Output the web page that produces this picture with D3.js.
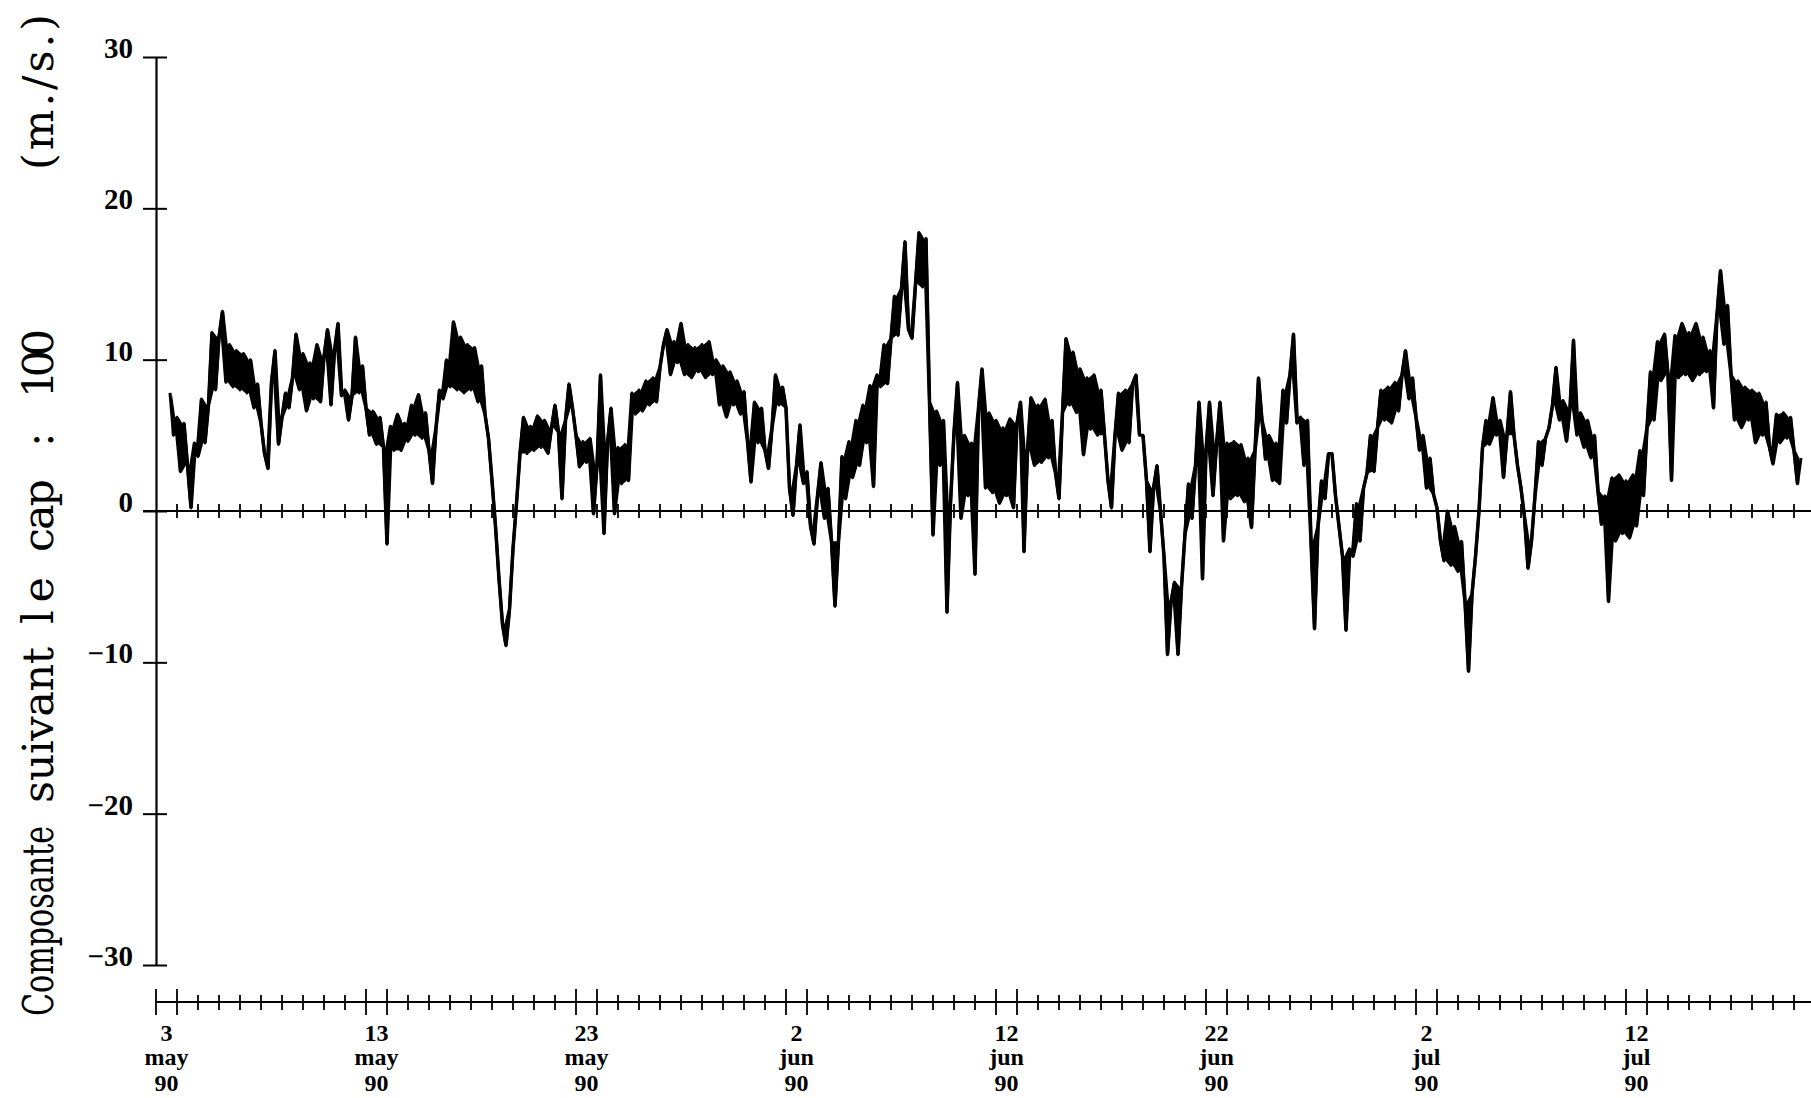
<!DOCTYPE html>
<html>
  <head>
    <style>
      body,
      html {
        margin: 0;
        background: #fff;
        overflow: hidden;
      }
    </style>
    <script src="https://d3js.org/d3.v7.min.js"></script>
    <title>Composante suivant le cap</title>
  </head>

  <body>
    <svg id="chart" width="1811" height="1098"></svg>

    <script>
      // series: one reading every 4 hours, starting 3 May 1990 16:00 (UTC)
      var startTime = Date.UTC(1990, 4, 3, 16);
      var stepHours = 4;
      var values = [
        7.8, 5.0,
        6.2, 2.6, 5.8, 3.0, 0.2, 4.5,
        3.6, 7.4, 4.5, 7.0, 11.8, 8.0,
        11.5, 13.2, 8.5, 11.0, 8.2, 10.6,
        8.0, 10.4, 7.8, 10.0, 6.8, 8.4,
        5.8, 3.8, 2.8, 8.5, 10.6, 4.4,
        6.2, 7.8, 6.8, 8.8, 11.7, 8.0,
        10.4, 6.6, 9.8, 7.4, 11.0, 7.2,
        10.2, 12.0, 7.0, 10.6, 12.4, 7.6,
        8.0, 6.0, 7.6, 11.5, 7.8, 9.6,
        6.8, 5.0, 6.6, 4.4, 6.2, 4.2, // 13 may
        -2.2, 5.6, 4.0, 6.4, 4.0, 5.8,
        4.6, 7.0, 5.0, 7.7, 4.8, 6.5,
        4.0, 1.8, 5.5, 8.0, 7.4, 10.0,
        8.2, 12.5, 8.0, 11.5, 7.8, 11.0,
        8.0, 10.8, 7.2, 9.6, 6.4, 4.8,
        2.0, -1.0, -4.5, -7.5, -8.9, -6.5,
        -2.5, 0.5, 3.8, 6.2, 3.8, 5.6,
        4.0, 6.3, 4.2, 6.0, 3.8, 5.5,
        7.0, 5.2, 0.8, 6.0, 8.4, 6.8,
        5.0, 2.9, 4.6, 3.2, 4.8, -0.2, // 23 may
        3.0, 9.0, -1.5, 4.5, 6.8, -0.2,
        4.2, 1.8, 4.4, 2.0, 7.8, 6.4,
        8.0, 6.6, 8.6, 7.0, 8.8, 7.2,
        9.5, 11.0, 12.0, 9.0, 11.2, 9.8,
        12.4, 9.0, 11.0, 8.8, 10.8, 9.2,
        11.0, 8.8, 11.2, 9.0, 10.0, 7.0,
        9.6, 6.2, 9.2, 7.0, 8.6, 6.4,
        7.9, 4.6, 1.9, 7.2, 4.5, 6.8,
        4.0, 2.8, 5.5, 9.0, 7.0, 8.2,
        6.8, 1.5, -0.3, 3.0, 5.7, 1.8, // 2 jun
        2.6, -1.0, -2.2, 1.0, 3.2, -0.5,
        1.5, -2.0, -6.3, -2.0, 3.6, 0.8,
        4.6, 2.2, 6.0, 3.0, 7.0, 4.5,
        8.3, 1.6, 9.0, 8.2, 11.0, 8.4,
        11.4, 14.2, 11.6, 14.7, 17.8, 12.0,
        11.4, 15.0, 18.4, 14.8, 18.0, 7.2,
        -1.6, 6.6, 3.0, 6.0, -6.7, 0.5,
        5.2, 8.5, -0.5, 5.0, 1.0, 4.5,
        -4.2, 6.8, 9.4, 1.5, 6.5, 1.2,
        6.0, 0.5, 5.5, 1.0, 6.1, 0.2, // 12 jun
        5.8, 7.2, -2.7, 4.0, 7.5, 3.0,
        7.0, 3.2, 7.4, 3.5, 6.0, 2.5,
        0.8, 6.5, 11.4, 7.0, 10.5, 6.5,
        9.4, 3.7, 8.8, 5.4, 9.0, 5.0,
        8.0, 5.0, 2.0, 0.2, 5.0, 7.8,
        4.0, 8.0, 4.5, 8.4, 9.0, 5.0,
        5.0, 2.0, -2.7, 1.5, 3.0, 0.0,
        -3.0, -9.5, -6.0, -4.7, -9.5, -5.0,
        -1.5, 1.8, -0.5, 3.0, 7.2, -4.5,
        4.0, 7.2, 1.0, 4.4, 7.2, -2.0, // 22 jun
        4.5, 0.8, 4.6, 1.0, 4.4, 0.6,
        3.5, -1.1, 4.0, 8.8, 6.0, 3.4,
        5.0, 2.0, 4.5, 1.8, 8.0, 5.8,
        9.0, 11.7, 5.8, 6.2, 3.0, 6.0,
        -2.0, -7.8, -1.0, 2.0, 0.8, 3.8,
        3.8, 1.0, -1.0, -3.0, -7.9, -2.5,
        -3.0, 0.5, -2.0, 1.5, 2.5, 5.0,
        2.6, 5.5, 8.0, 6.0, 8.2, 5.8,
        8.5, 6.6, 9.0, 10.6, 7.4, 8.8,
        6.2, 4.0, 5.0, 1.5, 3.5, 1.1, // 2 jul
        0.2, -2.0, -3.3, 0.0, -3.6, -1.0,
        -4.0, -2.0, -6.0, -10.6, -5.5, -3.0,
        0.0, 4.2, 6.0, 4.4, 7.5, 5.0,
        6.0, 2.2, 5.0, 7.9, 5.0, 3.0,
        1.5, -0.4, -3.8, -2.0, 1.0, 4.6,
        3.0, 4.8, 5.5, 7.0, 9.5, 6.0,
        7.3, 4.6, 6.8, 11.3, 5.0, 6.5,
        4.2, 6.0, 3.5, 5.0, 1.3, -0.9,
        1.0, -6.0, 2.2, -2.0, 2.4, -1.5,
        2.0, -1.8, 2.4, -1.0, 4.0, 1.0, // 12 jul
        5.5, 9.2, 6.0, 11.2, 8.6, 11.7,
        9.0, 2.0, 11.6, 8.8, 12.4, 9.0,
        11.8, 8.6, 12.4, 9.0, 11.5, 9.2,
        10.6, 6.8, 13.0, 15.9, 11.0, 13.6,
        9.0, 6.0, 8.6, 5.5, 8.2, 6.0,
        8.0, 4.5, 7.8, 5.0, 7.2, 4.2,
        3.1, 6.4, 4.5, 6.5, 4.8, 6.2,
        4.0, 1.8, 3.5,
      ];

      var yTicks = [30, 20, 10, 0, -10, -20, -30];
      var labelDates = [
        [1990, 4, 3], [1990, 4, 13], [1990, 4, 23], [1990, 5, 2],
        [1990, 5, 12], [1990, 5, 22], [1990, 6, 2], [1990, 6, 12],
      ];
      var labelDays = ["3", "13", "23", "2", "12", "22", "2", "12"];
      var labelMonths = ["may", "may", "may", "jun", "jun", "jun", "jul", "jul"];
      var labelYears = ["90", "90", "90", "90", "90", "90", "90", "90"];
      var titleWords = ["Composante", "suivant", "le", "cap", ":", "100", "(m./s.)"];

      var svg = d3.select("#chart");
      var serif = "'Liberation Serif', 'DejaVu Serif', serif";

      var t0 = new Date(Date.UTC(1990, 4, 3));
      var t1 = d3.utcDay.offset(t0, 79);
      var x = d3.scaleUtc().domain([t0, t1]).range([156, 156 + 79 * 21]);
      var y = d3.scaleLinear().domain([-30, 30]).range([965, 57]);

      var data = values.map(function (v, i) {
        return { t: new Date(startTime + i * stepHours * 3600000), v: v };
      });

      // vertical axis
      var yAxis = d3.axisLeft(y).tickValues(yTicks).tickSize(0).tickPadding(23)
        .tickFormat(function (d) { return d < 0 ? "\u2212" + -d : d; });
      var gy = svg.append("g").attr("transform", "translate(156,0)").call(yAxis);
      gy.select(".domain").attr("stroke", "#000").attr("stroke-width", 2.2);
      gy.selectAll(".tick line").remove();
      gy.selectAll(".tick")
        .append("line")
        .attr("x1", -13).attr("x2", 11)
        .attr("stroke", "#000").attr("stroke-width", 2);
      gy.selectAll(".tick text")
        .attr("font-family", serif).attr("font-weight", "bold")
        .attr("font-size", 29).attr("fill", "#000")
        .attr("dy", "0.02em");

      // zero line with day ticks
      var days = d3.utcDay.range(t0, t1);
      svg.append("line")
        .attr("x1", 143).attr("x2", 1811)
        .attr("y1", y(0)).attr("y2", y(0))
        .attr("stroke", "#000").attr("stroke-width", 2.2);
      svg.append("g").selectAll("line").data(days.slice(1)).join("line")
        .attr("x1", function (d) { return x(d); })
        .attr("x2", function (d) { return x(d); })
        .attr("y1", y(0) - 7).attr("y2", y(0) + 7)
        .attr("stroke", "#000").attr("stroke-width", 1.8);

      // the series: the dense recorder trace fills the span covered between
      // each pair of neighbouring readings, with the trace itself on top
      var pairs = data.slice(0, -1).map(function (d, i) {
        var b = data[i + 1].v;
        return {
          t: new Date((+d.t + +data[i + 1].t) / 2),
          lo: Math.min(d.v, b),
          hi: Math.max(d.v, b),
        };
      });
      var band = d3.area()
        .x(function (d) { return x(d.t); })
        .y0(function (d) { return y(d.lo); })
        .y1(function (d) { return y(d.hi); });
      svg.append("path")
        .datum(pairs)
        .attr("d", band)
        .attr("fill", "#000");
      var line = d3.line()
        .x(function (d) { return x(d.t); })
        .y(function (d) { return y(d.v); });
      svg.append("path")
        .datum(data)
        .attr("d", line)
        .attr("fill", "none")
        .attr("stroke", "#000")
        .attr("stroke-width", 3)
        .attr("stroke-linejoin", "round");

      // time axis at the bottom
      var axisY = 1002;
      var longDays = [];
      labelDates.forEach(function (a) {
        var d = new Date(Date.UTC(a[0], a[1], a[2]));
        longDays.push(+d, +d3.utcDay.offset(d, 1));
      });
      var gx = svg.append("g");
      gx.append("line")
        .attr("x1", x(t0)).attr("x2", 1811)
        .attr("y1", axisY).attr("y2", axisY)
        .attr("stroke", "#000").attr("stroke-width", 2.2);
      gx.selectAll(".dt").data(days.concat([t1])).join("line")
        .attr("class", "dt")
        .attr("x1", function (d) { return x(d); })
        .attr("x2", function (d) { return x(d); })
        .attr("y1", function (d) { return longDays.indexOf(+d) >= 0 ? axisY - 13 : axisY - 7; })
        .attr("y2", function (d) { return longDays.indexOf(+d) >= 0 ? axisY + 13 : axisY + 8; })
        .attr("stroke", "#000").attr("stroke-width", 1.8);

      var lab = gx.selectAll(".lab").data(labelDates).join("text")
        .attr("class", "lab")
        .attr("font-family", serif).attr("font-weight", "bold")
        .attr("font-size", 24).attr("text-anchor", "middle")
        .attr("transform", function (a) {
          var d = new Date(Date.UTC(a[0], a[1], a[2], 12));
          return "translate(" + x(d) + ",0)";
        });
      lab.append("tspan").attr("x", 0).attr("y", 1041)
        .text(function (a, i) { return labelDays[i]; });
      lab.append("tspan").attr("x", 0).attr("y", 1065)
        .text(function (a, i) { return labelMonths[i]; });
      lab.append("tspan").attr("x", 0).attr("y", 1091)
        .text(function (a, i) { return labelYears[i]; });

      // rotated axis title, one piece per word as spaced in the original
      var wordSpan = [
        [1016, 826], [803, 647], [624, 577], [552, 479],
        [447, 429], [398, 329], [170, 14],
      ];
      svg.append("g").selectAll("text").data(titleWords).join("text")
        .attr("font-family", "'DejaVu Serif', serif")
        .attr("font-size", 43)
        .attr("fill", "#000")
        .attr("transform", function (w, i) {
          return "translate(53," + wordSpan[i][0] + ") rotate(-90)";
        })
        .attr("textLength", function (w, i) { return wordSpan[i][0] - wordSpan[i][1]; })
        .attr("lengthAdjust", function (w, i) { return i === 0 ? "spacingAndGlyphs" : "spacing"; })
        .text(function (w) { return w; });
    </script>
  </body>
</html>
